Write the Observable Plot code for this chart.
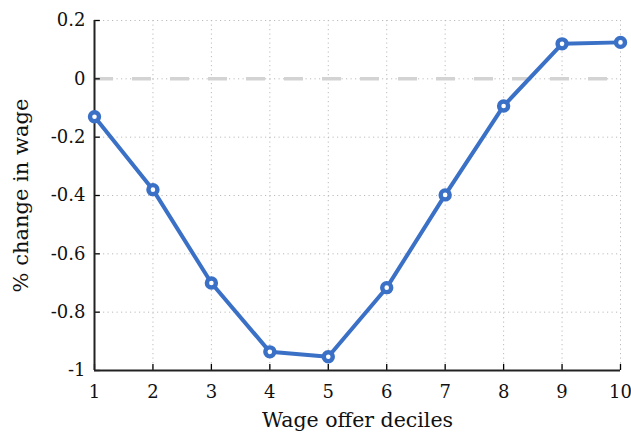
<!DOCTYPE html>
<html><head><meta charset="utf-8">
<script src="https://cdn.jsdelivr.net/npm/d3@7"></script>
<script src="https://cdn.jsdelivr.net/npm/@observablehq/plot@0.6"></script>
<style>
body{margin:0;background:#fff;}
svg{font-family:"DejaVu Serif",serif;}
</style>
</head><body><div id="chart"></div>
<script>
const deciles = [1,2,3,4,5,6,7,8,9,10];
const pctChange = [-0.13,-0.38,-0.70,-0.936,-0.953,-0.716,-0.398,-0.093,0.12,0.125];
const xTicks = [1,2,3,4,5,6,7,8,9,10];
const yTicks = [-1,-0.8,-0.6,-0.4,-0.2,0,0.2];
const yTickLabels = ["-1","-0.8","-0.6","-0.4","-0.2","0","0.2"];
const data = deciles.map((d,i)=>({x:d,y:pctChange[i]}));
const blue = "#3a70c6";
const chart = Plot.plot({
  width:631, height:434,
  marginLeft:94, marginRight:11, marginTop:20, marginBottom:64,
  style:{fontFamily:"DejaVu Serif, serif", fontSize:"18px", background:"#fff", overflow:"visible"},
  x:{domain:[1,10], label:null},
  y:{domain:[-1,0.2], label:null},
  marks:[
    Plot.gridX(xTicks,{stroke:"#bbb", strokeOpacity:1, strokeDasharray:"1.2,3.3", strokeWidth:1}),
    Plot.gridY(yTicks,{stroke:"#bbb", strokeOpacity:1, strokeDasharray:"1.2,3.3", strokeWidth:1}),
    Plot.ruleY([0],{stroke:"#d3d3d3", strokeWidth:3.5, strokeDasharray:"19,19"}),
    Plot.axisX(xTicks,{tickSize:0, tickPadding:15, fontSize:18, fill:"#111", tickFormat:d=>String(d), label:null}),
    Plot.axisY(yTicks,{tickSize:0, tickPadding:9, fontSize:18, fill:"#111", tickFormat:(d,i)=>yTickLabels[i], label:null}),
    Plot.ruleX(xTicks,{x:d=>d, y1:d=>-1, y2:d=>-0.979, stroke:"#000", strokeWidth:1.3}),
    Plot.ruleY(yTicks,{y:d=>d, x1:d=>1, x2:d=>1.1, stroke:"#000", strokeWidth:1.3}),
    Plot.ruleX([1],{y1:d=>-1, y2:d=>0.2, stroke:"#222", strokeWidth:2}),
    Plot.ruleY([-1],{x1:d=>1, x2:d=>10, stroke:"#222", strokeWidth:2}),
    Plot.line(data,{x:"x",y:"y",stroke:blue,strokeWidth:4}),
    Plot.dot(data,{x:"x",y:"y",r:4.5,fill:"#fff",stroke:blue,strokeWidth:4.4}),
    Plot.text(["Wage offer deciles"],{frameAnchor:"bottom", dy:56, fontSize:20.5, fill:"#111"}),
    Plot.text(["% change in wage"],{frameAnchor:"left", textAnchor:"middle", dx:-73, rotate:-90, fontSize:21, fill:"#111"})
  ]
});
document.getElementById("chart").appendChild(chart);
</script></body></html>
